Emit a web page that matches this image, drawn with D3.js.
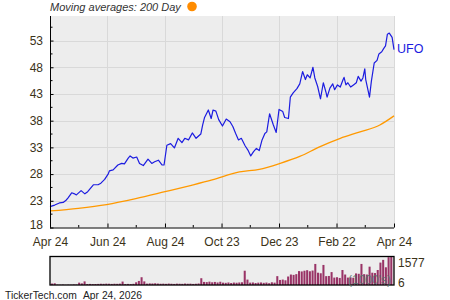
<!DOCTYPE html>
<html lang="en">
  <head>
    <meta charset="UTF-8" />
    <title>UFO 200 day moving average</title>
    <script src="https://d3js.org/d3.v7.min.js"></script>
    <style>
      body { margin: 0; background: #fff; }
      svg { display: block; font-family: "Liberation Sans", Arial, sans-serif; }
    </style>
  </head>
  <body>
    <svg width="450" height="300"></svg>
    <script>
      // days after Apr 24, 2025 and closing price
      const priceDay = [0, 5, 10, 14, 17, 19, 23, 26, 28, 33, 37, 40, 46, 51, 54, 58, 62, 63, 67, 72,
        76, 79, 83, 85, 88, 92, 95, 99, 104, 108, 111, 115, 119, 121, 124, 128, 132, 136, 140, 143,
        147, 151, 155, 160, 162, 164, 168, 171, 173, 176, 179, 183, 187, 191, 194, 197, 200, 203, 207, 210,
        213, 216, 219, 222, 225, 228, 230, 233, 237, 240, 243, 247, 249, 253, 255, 258, 262, 265, 268, 271,
        273, 276, 279, 281, 284, 287, 290, 293, 294, 297, 300, 302, 305, 308, 311, 312, 314, 316, 319, 322,
        325, 327, 330, 332, 334, 335, 339, 341, 344, 347, 349, 352, 354, 356, 358, 360, 363, 365];
      const priceVal = [21.9, 22.2, 22.6, 22.7, 23.1, 23.5, 24.5, 24.3, 24.1, 24.9, 24.3, 24.7, 26.0, 26.0, 26.3, 27.0, 28.1, 28.6, 28.8, 29.7,
        30.0, 29.9, 31.0, 31.4, 31.0, 31.2, 30.0, 29.6, 30.8, 30.0, 30.3, 30.6, 29.7, 29.7, 33.4, 33.7, 32.9, 34.7, 33.9, 34.7,
        34.4, 35.7, 34.7, 35.5, 37.2, 38.6, 40.0, 38.4, 40.0, 39.8, 38.2, 37.0, 38.3, 37.8, 36.9, 35.6, 34.4, 34.7, 33.3, 32.5,
        31.4, 32.2, 32.8, 32.4, 34.4, 35.6, 35.9, 39.3, 37.2, 35.8, 40.1, 39.7, 38.6, 38.4, 42.4, 43.2, 44.0, 44.9, 47.2, 45.7,
        46.6, 46.0, 48.0, 46.0, 44.4, 42.1, 45.1, 43.2, 42.4, 44.1, 44.9, 43.8, 44.7, 44.3, 45.7, 46.1, 44.7, 45.1, 44.3, 44.7,
        45.1, 46.3, 45.4, 46.0, 47.7, 45.7, 42.4, 45.4, 48.8, 49.3, 50.5, 50.9, 51.5, 52.0, 54.2, 54.4, 53.6, 51.3];

      // 200 day moving average
      const maDay = [0, 30, 60, 91, 122, 150, 172, 201, 222, 244, 265, 286, 308, 329, 350, 365];
      const maVal = [21.1, 21.6, 22.3, 23.4, 24.7, 25.9, 26.9, 28.4, 28.9, 30.0, 31.3, 33.1, 34.7, 35.9, 37.2, 38.9];

      // volume in 1000's, one bar per two trading days
      const volume = [80, 95, 20, 15, 25, 10, 20, 15, 30, 25,
        130, 90, 200, 55, 60, 50, 55, 60, 70, 65,
        75, 70, 60, 70, 65, 75, 190, 55, 60, 50,
        65, 150, 225, 430, 200, 75, 90, 85, 95, 80,
        70, 75, 65, 80, 70, 60, 75, 70, 65, 80,
        70, 75, 60, 70, 85, 375, 170, 160, 185, 150,
        170, 140, 180, 130, 120, 140, 110, 135, 125, 140,
        150, 790, 300, 130, 140, 110, 130, 140, 120, 135,
        100, 150, 130, 490, 280, 300, 260, 470, 580, 560,
        600, 770, 750, 790, 820, 760, 800, 1165, 680, 650,
        1110, 490, 500, 715, 410, 430, 390, 830, 580, 410,
        420, 400, 640, 620, 1165, 600, 580, 1015, 680, 660,
        830, 1240, 1390, 980, 1540, 1577];

      const tickDates = ["2025-04-24", "2025-06-24", "2025-08-24", "2025-10-23", "2025-12-23", "2026-02-22", "2026-04-24"];
      const tickLabels = ["Apr 24", "Jun 24", "Aug 24", "Oct 23", "Dec 23", "Feb 22", "Apr 24"];
      const yTicks = [18, 23, 28, 33, 38, 43, 48, 53];
      const volLabels = ["1577", "6"];

      const parse = d3.timeParse("%Y-%m-%d");
      const start = parse("2025-04-24");
      const ticks = tickDates.map(parse);
      const toDate = (d) => d3.timeDay.offset(start, d);

      const pLeft = 50, pRight = 394, pTop = 16, pBottom = 227.5;
      const vTop = 256.5, vBottom = 285;
      const textCol = "#3b3218";

      const svg = d3.select("svg");

      const x = d3.scaleTime().domain([start, ticks[ticks.length - 1]]).range([pLeft, pRight]);
      const y = d3.scaleLinear().domain([18, 57.6]).range([pBottom, pTop]);

      // plot background
      svg.append("rect").attr("x", pLeft).attr("y", pTop)
        .attr("width", pRight - pLeft).attr("height", pBottom - pTop).attr("fill", "#ededed");

      // grid
      const grid = svg.append("g").attr("stroke", "#d9d9d9").attr("stroke-width", 1);
      grid.selectAll(".h").data(yTicks.slice(1)).join("line")
        .attr("x1", pLeft).attr("x2", pRight)
        .attr("y1", (d) => Math.round(y(d)) + 0.5).attr("y2", (d) => Math.round(y(d)) + 0.5);
      grid.selectAll(".v").data(ticks.slice(1)).join("line")
        .attr("x1", (d) => Math.round(x(d)) + 0.5).attr("x2", (d) => Math.round(x(d)) + 0.5)
        .attr("y1", pTop).attr("y2", pBottom);

      // moving average
      const maLine = d3.line().x((d, i) => x(toDate(maDay[i]))).y((d) => y(d)).curve(d3.curveMonotoneX);
      svg.append("path").attr("d", maLine(maVal))
        .attr("fill", "none").attr("stroke", "#ff9900").attr("stroke-width", 1.3);

      // price
      const pLine = d3.line().x((d, i) => x(toDate(priceDay[i]))).y((d) => y(d));
      svg.append("path").attr("d", pLine(priceVal))
        .attr("fill", "none").attr("stroke", "#1c1ce0").attr("stroke-width", 1.2)
        .attr("stroke-linejoin", "round");

      svg.append("text").attr("x", 397).attr("y", 52.5)
        .attr("fill", "#1c1ce0").attr("font-size", 12.5).text("UFO");

      // y axis, ticks inward
      const yAxis = d3.axisLeft(y).tickValues(yTicks).tickSize(-3.5).tickPadding(7);
      const ya = svg.append("g").attr("transform", `translate(${pLeft},0)`).call(yAxis);
      ya.select(".domain").attr("stroke", "#000").attr("d", `M0.5,${pTop}V${pBottom}`);
      ya.selectAll("text").attr("fill", textCol).attr("font-size", 12).attr("font-family", null);
      ya.selectAll(".tick").filter((d) => d === 18).select("text").attr("dy", "0.1em");
      const minorY = d3.range(20.5, 57, 2.5).filter((v) => v % 5 !== 3);
      ya.selectAll(".minor").data(minorY).join("line")
        .attr("x1", 0).attr("x2", 2.5).attr("y1", (d) => y(d)).attr("y2", (d) => y(d))
        .attr("stroke", "#000");

      // x axis, ticks inward
      const xAxis = d3.axisBottom(x).tickValues(ticks).tickSize(-4).tickPadding(10)
        .tickFormat((d, i) => tickLabels[i]);
      const xa = svg.append("g").attr("transform", `translate(0,${pBottom})`).call(xAxis);
      xa.select(".domain").attr("stroke", "#000").attr("d", `M${pLeft},0.5H${pRight}`);
      xa.selectAll("text").attr("fill", textCol).attr("font-size", 12).attr("font-family", null);
      const mids = ticks.slice(1).map((d, i) => new Date((d.getTime() + ticks[i].getTime()) / 2));
      xa.selectAll(".minor").data(mids).join("line")
        .attr("x1", (d) => x(d)).attr("x2", (d) => x(d)).attr("y1", 0).attr("y2", -2.5)
        .attr("stroke", "#000");

      // title and legend dot
      svg.append("text").attr("x", 50).attr("y", 11).attr("font-size", 11)
        .attr("font-style", "italic").attr("fill", "#333").text("Moving averages: 200 Day");
      svg.append("circle").attr("cx", 192).attr("cy", 6.5).attr("r", 4.8).attr("fill", "#ff8c00");

      // volume panel
      const xv = d3.scaleBand().domain(d3.range(volume.length)).range([pLeft + 1, pRight - 1]);
      const yv = d3.scaleLinear().domain([0, 1577]).range([vBottom, vTop]);
      svg.append("rect").attr("x", pLeft).attr("y", vTop)
        .attr("width", pRight - pLeft).attr("height", vBottom - vTop).attr("fill", "#ededed");
      svg.append("g").attr("fill", "#993366").selectAll("rect").data(volume).join("rect")
        .attr("x", (d, i) => xv(i)).attr("width", xv.bandwidth() * 0.75)
        .attr("y", (d) => yv(d)).attr("height", (d) => vBottom - yv(d));
      svg.append("rect").attr("x", pLeft).attr("y", vTop)
        .attr("width", pRight - pLeft).attr("height", vBottom - vTop)
        .attr("fill", "none").attr("stroke", "#000").attr("stroke-width", 1.3);
      svg.append("text").attr("x", 348).attr("y", 284).attr("font-size", 12)
        .attr("fill", "#56746e").attr("opacity", 0.85).text("(1000's)");
      svg.selectAll(".vl").data(volLabels).join("text")
        .attr("x", 398).attr("y", (d, i) => (i === 0 ? 266.5 : 286.5))
        .attr("font-size", 12).attr("fill", textCol).text((d) => d);

      // footer
      svg.append("text").attr("x", 5).attr("y", 298.5).attr("font-size", 10.3)
        .attr("fill", "#222").text("TickerTech.com");
      svg.append("text").attr("x", 83).attr("y", 298.5).attr("font-size", 10.3)
        .attr("fill", "#222").text("Apr 24, 2026");
    </script>
  </body>
</html>
